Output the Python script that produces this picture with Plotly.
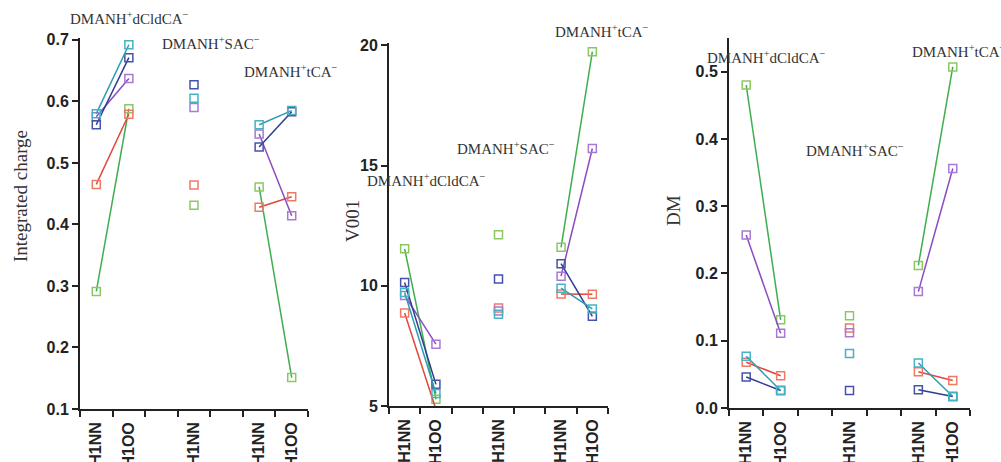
import plotly.graph_objects as go

W, H = 1001, 462

# x positions of the data columns: group1 H1NN, H1OO, group2 H1NN, group3 H1NN, H1OO
slot_labels = ["H1NN", "H1OO", "H1NN", "H1NN", "H1OO"]
slot_pos = [0, 1, 3, 5, 6]
slot_edges = [-0.5, 0.5, 1.5, 2.5, 3.5, 4.5, 5.5, 6.5]

series_names = ["green", "red", "purple", "navy", "cyan"]
line_colors = {"green": "#3fae4e", "red": "#e2463c", "purple": "#8a4cc0",
               "navy": "#2f3b90", "cyan": "#2a9db3"}
marker_colors = {"green": "#8cc862", "red": "#ee7a66", "purple": "#a878d6",
                 "navy": "#4552a8", "cyan": "#45b3c4"}

# Integrated charge
charge = {
    "green":  [0.291, 0.588, 0.431, 0.461, 0.151],
    "red":    [0.465, 0.579, 0.464, 0.428, 0.445],
    "purple": [0.575, 0.637, 0.590, 0.547, 0.414],
    "navy":   [0.562, 0.671, 0.627, 0.526, 0.583],
    "cyan":   [0.580, 0.692, 0.605, 0.562, 0.585],
}
# V001
v001 = {
    "green":  [11.54, 5.28, 12.12, 11.60, 19.74],
    "red":    [8.87, 4.86, 9.08, 9.66, 9.65],
    "purple": [9.60, 7.57, 8.95, 10.40, 15.71],
    "navy":   [10.14, 5.90, 10.28, 10.92, 8.73],
    "cyan":   [9.72, 5.52, 8.82, 9.90, 9.04],
}
# DM
dm = {
    "green":  [0.480, 0.131, 0.137, 0.212, 0.507],
    "red":    [0.068, 0.048, 0.119, 0.054, 0.041],
    "purple": [0.257, 0.111, 0.112, 0.173, 0.356],
    "navy":   [0.046, 0.026, 0.026, 0.027, 0.017],
    "cyan":   [0.077, 0.026, 0.081, 0.067, 0.017],
}

panels = [
    dict(data=charge, title="Integrated charge", xpx=(80, 308), ypx=(409, 38),
         yrange=[0.1, 0.703], dtick=0.1, fmt=".1f", t0=0.1, titlex=20, titley=196),
    dict(data=v001, title="V001", xpx=(389, 608), ypx=(406, 43),
         yrange=[5, 20.1], dtick=5, fmt="d", t0=5, titlex=353, titley=221),
    dict(data=dm, title="DM", xpx=(729, 970), ypx=(408, 38),
         yrange=[0, 0.55], dtick=0.1, fmt=".1f", t0=0, titlex=673, titley=211),
]

fig = go.Figure()
axis_color = "#222222"
tick_font = dict(family="Liberation Sans, Arial", size=16, color="#222222", weight="bold")

for i, p in enumerate(panels, start=1):
    xa = "x" if i == 1 else f"x{i}"
    ya = "y" if i == 1 else f"y{i}"
    for s in series_names:
        v = p["data"][s]
        xs = [slot_pos[0], slot_pos[1], None, slot_pos[2], None, slot_pos[3], slot_pos[4]]
        ys = [v[0], v[1], None, v[2], None, v[3], v[4]]
        fig.add_trace(go.Scatter(
            x=xs, y=ys, xaxis=xa, yaxis=ya, mode="lines+markers",
            line=dict(color=line_colors[s], width=1.5),
            marker=dict(symbol="square-open", size=8,
                        color=marker_colors[s], line=dict(width=1.5, color=marker_colors[s])),
            cliponaxis=False, showlegend=False, connectgaps=False,
        ))
    x0, x1 = p["xpx"]
    yb, yt = p["ypx"]
    # main axis: tick marks between category slots, no labels
    fig.layout[f"xaxis{'' if i == 1 else i}"] = dict(
        domain=[x0 / W, x1 / W], anchor=ya, range=[-0.5, 6.5], automargin=False,
        tickmode="array", tickvals=slot_edges, ticktext=[""] * len(slot_edges),
        ticks="outside", ticklen=6, tickwidth=2, tickcolor=axis_color,
        showgrid=False, zeroline=False,
        showline=True, linecolor=axis_color, linewidth=2,
    )
    # overlay axis carrying the category labels
    fig.layout[f"xaxis{i + 3}"] = dict(
        domain=[x0 / W, x1 / W], anchor=ya, overlaying=xa, side="bottom",
        range=[-0.5, 6.5], automargin=False, tickmode="array", tickvals=slot_pos,
        ticktext=slot_labels, tickangle=-90, ticks="", tickfont=tick_font,
        ticklabelstandoff=9, showgrid=False, zeroline=False, showline=False,
    )
    fig.layout[f"yaxis{'' if i == 1 else i}"] = dict(
        domain=[1 - yb / H, 1 - yt / H], anchor=xa, range=p["yrange"], automargin=False,
        tickmode="linear", tick0=p["t0"], dtick=p["dtick"], tickformat=p["fmt"],
        ticks="outside", ticklen=6, tickwidth=2, tickcolor=axis_color,
        showgrid=False, zeroline=False, showline=True, linecolor=axis_color,
        linewidth=2, tickfont=dict(family="Liberation Sans, Arial", size=16,
                                   color="#222222", weight="bold"),
    )
    fig.add_annotation(text=p["title"], xref="paper", yref="paper",
                       x=p["titlex"] / W, y=1 - p["titley"] / H, textangle=-90,
                       showarrow=False, xanchor="center", yanchor="middle",
                       font=dict(family="Liberation Serif, Times New Roman", size=19,
                                 color="#333333"))
    # invisible trace so the overlay axis is drawn
    fig.add_trace(go.Scatter(x=[None], y=[None], xaxis=f"x{i + 3}", yaxis=ya,
                             mode="markers", showlegend=False, hoverinfo="skip"))

labels = [
    ("DMANH<sup>+</sup>dCldCA<sup>−</sup>", 68, 18),
    ("DMANH<sup>+</sup>SAC<sup>−</sup>", 160, 43),
    ("DMANH<sup>+</sup>tCA<sup>−</sup>", 242, 71),
    ("DMANH<sup>+</sup>tCA<sup>−</sup>", 553, 31),
    ("DMANH<sup>+</sup>SAC<sup>−</sup>", 455, 148),
    ("DMANH<sup>+</sup>dCldCA<sup>−</sup>", 365, 180),
    ("DMANH<sup>+</sup>dCldCA<sup>−</sup>", 705, 57),
    ("DMANH<sup>+</sup>SAC<sup>−</sup>", 804, 150),
    ("DMANH<sup>+</sup>tCA<sup>−</sup>", 910, 51),
]
for txt, lx, ly in labels:
    fig.add_annotation(text=txt, xref="paper", yref="paper", x=lx / W, y=1 - ly / H,
                       xanchor="left", yanchor="middle", showarrow=False,
                       font=dict(family="Liberation Serif, Times New Roman", size=15,
                                 color="#333333"))

fig.update_layout(width=W, height=H, margin=dict(l=0, r=0, t=0, b=0, autoexpand=False),
                  plot_bgcolor="white", paper_bgcolor="white")
fig.write_html("out.html")
